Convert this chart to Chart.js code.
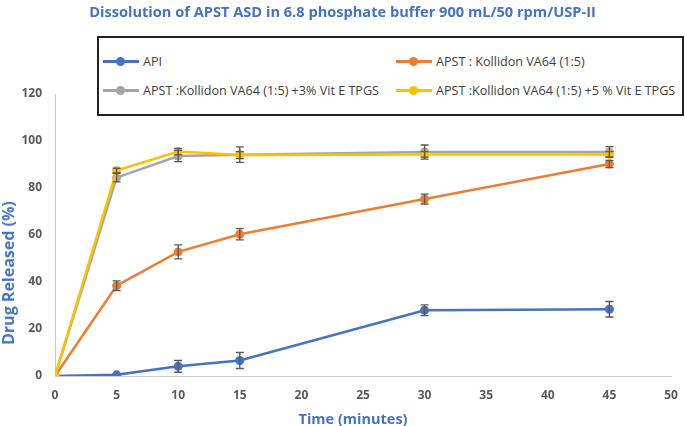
<!DOCTYPE html>
<html>
<head>
<meta charset="utf-8">
<script src="https://cdn.jsdelivr.net/npm/chart.js@4.4.0/dist/chart.umd.min.js"></script>
<style>
  body { margin: 0; background: #fff; }
  #wrap { position: relative; width: 685px; height: 426px; font-family: "Open Sans", sans-serif; }
  #title { position: absolute; left: 0; width: 685px; top: 1px; text-align: center; color: #4472C4; font-weight: bold;
           font-size: 14.6px; white-space: nowrap; }
  #ytitle { position: absolute; left: 8px; top: 273px; color: #4472C4; font-weight: bold; font-size: 16px; white-space: nowrap;
            transform: translate(-50%, -50%) rotate(-90deg); }
  #xtitle { position: absolute; left: 353px; top: 418px; color: #4472C4; font-weight: bold; font-size: 14.5px; white-space: nowrap;
            transform: translate(-50%, -50%); }
  #legend { position: absolute; left: 97px; top: 36px; width: 587px; height: 80px; box-sizing: border-box;
            border: 2px solid #222; background: #fff; }
  .item { position: absolute; display: flex; align-items: center; height: 14px; font-size: 12.6px; color: #404040; white-space: nowrap; }
  .mark { position: relative; width: 36px; height: 3px; margin-right: 4px; }
  .mark i { position: absolute; left: 13px; top: -3px; width: 9px; height: 9px; border-radius: 50%; background: inherit; }
</style>
</head>
<body>
<div id="wrap">
  <canvas id="dissolutionChart" width="685" height="426"></canvas>
  <div id="title">Dissolution of APST ASD in 6.8 phosphate buffer 900 mL/50 rpm/USP-II</div>
  <div id="ytitle">Drug Released (%)</div>
  <div id="xtitle">Time (minutes)</div>
  <div id="legend"></div>
</div>
<script>
// sampling times (minutes)
const times = [0, 5, 10, 15, 30, 45];

const labels = [
  'API',
  'APST : Kollidon VA64 (1:5)',
  'APST :Kollidon VA64 (1:5) +3% Vit E TPGS',
  'APST :Kollidon VA64 (1:5) +5 % Vit E TPGS'
];

// % drug released and their error (SD)
const api       = [0, 0.5, 4.1, 6.6, 28.0, 28.4];
const apiErr    = [0, 0, 2.5, 3.4, 2.3, 3.3];
const kva       = [0, 38.4, 52.8, 60.3, 75.3, 90.2];
const kvaErr    = [0, 2.1, 3.0, 2.4, 2.1, 1.5];
const tpgs3     = [0, 84.4, 93.6, 94.2, 95.3, 95.3];
const tpgs3Err  = [0, 1.8, 2.4, 3.3, 3.0, 2.3];
const tpgs5     = [0, 87.4, 95.5, 94.0, 94.3, 94.3];
const tpgs5Err  = [0, 1.0, 1.4, 1.5, 1.2, 1.2];

const colors = ['#4472C4', '#ED7D31', '#A5A5A5', '#FFC000'];
const series = [api, kva, tpgs3, tpgs5];
const errors = [apiErr, kvaErr, tpgs3Err, tpgs5Err];

// draws the vertical error bars with caps
const errorBars = {
  id: 'errorBars',
  afterDatasetsDraw(chart) {
    const { ctx, scales: { x, y } } = chart;
    ctx.save();
    ctx.strokeStyle = '#595959';
    ctx.lineWidth = 1.3;
    chart.data.datasets.forEach(ds => {
      ds.errors.forEach((e, j) => {
        if (!e) return;
        const px = x.getPixelForValue(times[j]);
        const hi = y.getPixelForValue(ds.data[j].y + e);
        const lo = y.getPixelForValue(ds.data[j].y - e);
        ctx.beginPath();
        ctx.moveTo(px, hi); ctx.lineTo(px, lo);
        ctx.moveTo(px - 4, hi); ctx.lineTo(px + 4, hi);
        ctx.moveTo(px - 4, lo); ctx.lineTo(px + 4, lo);
        ctx.stroke();
      });
    });
    ctx.restore();
  }
};

const datasets = series.map((vals, i) => ({
  label: labels[i],
  data: vals.map((v, j) => ({ x: times[j], y: v })),
  errors: errors[i],
  borderColor: colors[i],
  backgroundColor: colors[i],
  borderWidth: 2.5,
  pointRadius: 4.5,
  pointBorderWidth: 0,
  order: 3 - i
}));

const tickFont = { family: 'Open Sans', size: 12, weight: 'bold' };

const chart = new Chart(document.getElementById('dissolutionChart'), {
  type: 'line',
  data: { datasets: datasets },
  options: {
    responsive: false,
    animation: false,
    layout: { padding: { top: 94, right: 14, bottom: 0, left: 0 } },
    plugins: { legend: { display: false }, tooltip: { enabled: false } },
    scales: {
      x: {
        type: 'linear',
        min: 0, max: 50,
        grid: { display: false },
        border: { color: '#D0D0D0', width: 1 },
        ticks: { stepSize: 5, color: '#595959', font: tickFont, padding: 4 },
        afterFit: s => { s.height = 50; }
      },
      y: {
        min: 0, max: 120,
        grid: { display: false },
        border: { color: '#C8C8C8', width: 1 },
        ticks: { stepSize: 20, color: '#595959', font: tickFont, padding: 5 },
        afterFit: s => { s.width = 55; }
      }
    }
  },
  plugins: [errorBars]
});

// legend box, two columns
const legend = document.getElementById('legend');
const cols = [4, 297];
const rows = [16, 45];
chart.data.datasets.forEach((ds, i) => {
  const item = document.createElement('div');
  item.className = 'item';
  item.style.left = cols[i % 2] + 'px';
  item.style.top = rows[Math.floor(i / 2)] + 'px';
  item.innerHTML = '<span class="mark" style="background:' + ds.borderColor + '"><i></i></span><span>' + ds.label + '</span>';
  legend.appendChild(item);
});
</script>
</body>
</html>
